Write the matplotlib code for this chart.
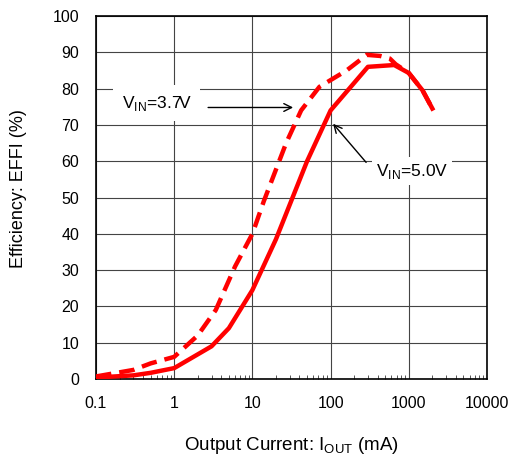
import numpy as np
import matplotlib.pyplot as plt
from matplotlib.ticker import FixedLocator, LogLocator, NullFormatter

plt.rcParams['font.family'] = ['Liberation Sans', 'DejaVu Sans']
plt.rcParams['mathtext.fontset'] = 'custom'
plt.rcParams['mathtext.rm'] = 'Liberation Sans'

# efficiency curves
i_5v0 = [0.1, 0.3, 0.5, 1, 3, 5, 10, 20, 50, 100, 300, 650, 1000, 1500, 2000]
eff_5v0 = [0.4, 1.0, 1.7, 3.0, 9.0, 14.0, 24.5, 38.5, 60.0, 74.0, 86.0, 86.5, 84.3, 79.5, 74.5]

i_3v7 = [0.1, 0.3, 0.5, 1, 2, 3.4, 6, 10, 14, 27, 42, 72, 160, 290, 430, 570, 680, 1000, 1500, 2000]
eff_3v7 = [0.7, 2.5, 4.3, 6.1, 12.0, 19.0, 31.0, 40.0, 49.0, 65.0, 74.0, 80.5, 85.0, 89.3, 89.0, 88.3, 86.7, 84.3, 79.5, 74.5]

x_ticks = [0.1, 1, 10, 100, 1000, 10000]
x_labels = ['0.1', '1', '10', '100', '1000', '10000']
y_ticks = list(range(0, 101, 10))

fig = plt.figure(figsize=(5.12, 4.59), dpi=100)
ax = fig.add_axes([0.1875, 0.1743, 0.7637, 0.7908])

ax.plot(i_3v7, eff_3v7, color='#ff0000', lw=3.2, ls=(0, (3.5, 1.8)), solid_capstyle='butt', zorder=3)
ax.plot(i_5v0, eff_5v0, color='#ff0000', lw=3.2, zorder=4)

ax.set_xscale('log')
ax.set_xlim(0.1, 10000)
ax.set_ylim(0, 100)
ax.xaxis.set_major_locator(FixedLocator(x_ticks))
ax.set_xticklabels(x_labels)
ax.xaxis.set_minor_locator(LogLocator(base=10, subs=np.arange(2, 10)))
ax.xaxis.set_minor_formatter(NullFormatter())
ax.set_yticks(y_ticks)

ax.grid(True, which='major', color='#444444', lw=0.8)
ax.tick_params(which='major', length=0, labelsize=11.5)
ax.tick_params(axis='x', which='major', pad=12)
ax.tick_params(axis='y', which='major', pad=12)
ax.tick_params(axis='x', which='minor', direction='in', length=3, width=0.7, color='#555555')
for s in ax.spines.values():
    s.set_linewidth(1.2)

ax.set_xlabel(r'Output Current: I$_{\rm OUT}$ (mA)', fontsize=13.5, va='center')
ax.xaxis.set_label_coords(0.5, -0.183)
ax.set_ylabel('Efficiency: EFFI (%)', fontsize=13, va='center')
ax.yaxis.set_label_coords(-0.198, 0.525)

# annotations
ax.annotate('', xy=(36, 74.8), xytext=(2.5, 74.8),
            arrowprops=dict(arrowstyle='->', color='black', lw=1.0, mutation_scale=14))
ax.text(0.6, 76, r'V$_{\rm IN}$=3.7V', fontsize=12.5, ha='center', va='center', zorder=5,
        bbox=dict(facecolor='white', edgecolor='none', pad=6))
ax.annotate('', xy=(102, 70.9), xytext=(300, 59.1),
            arrowprops=dict(arrowstyle='->', color='black', lw=1.0, mutation_scale=14))
ax.text(1100, 57.3, r'V$_{\rm IN}$=5.0V', fontsize=12.5, ha='center', va='center', zorder=5,
        bbox=dict(facecolor='white', edgecolor='none', pad=3))

fig.savefig('out.png', dpi=100)
